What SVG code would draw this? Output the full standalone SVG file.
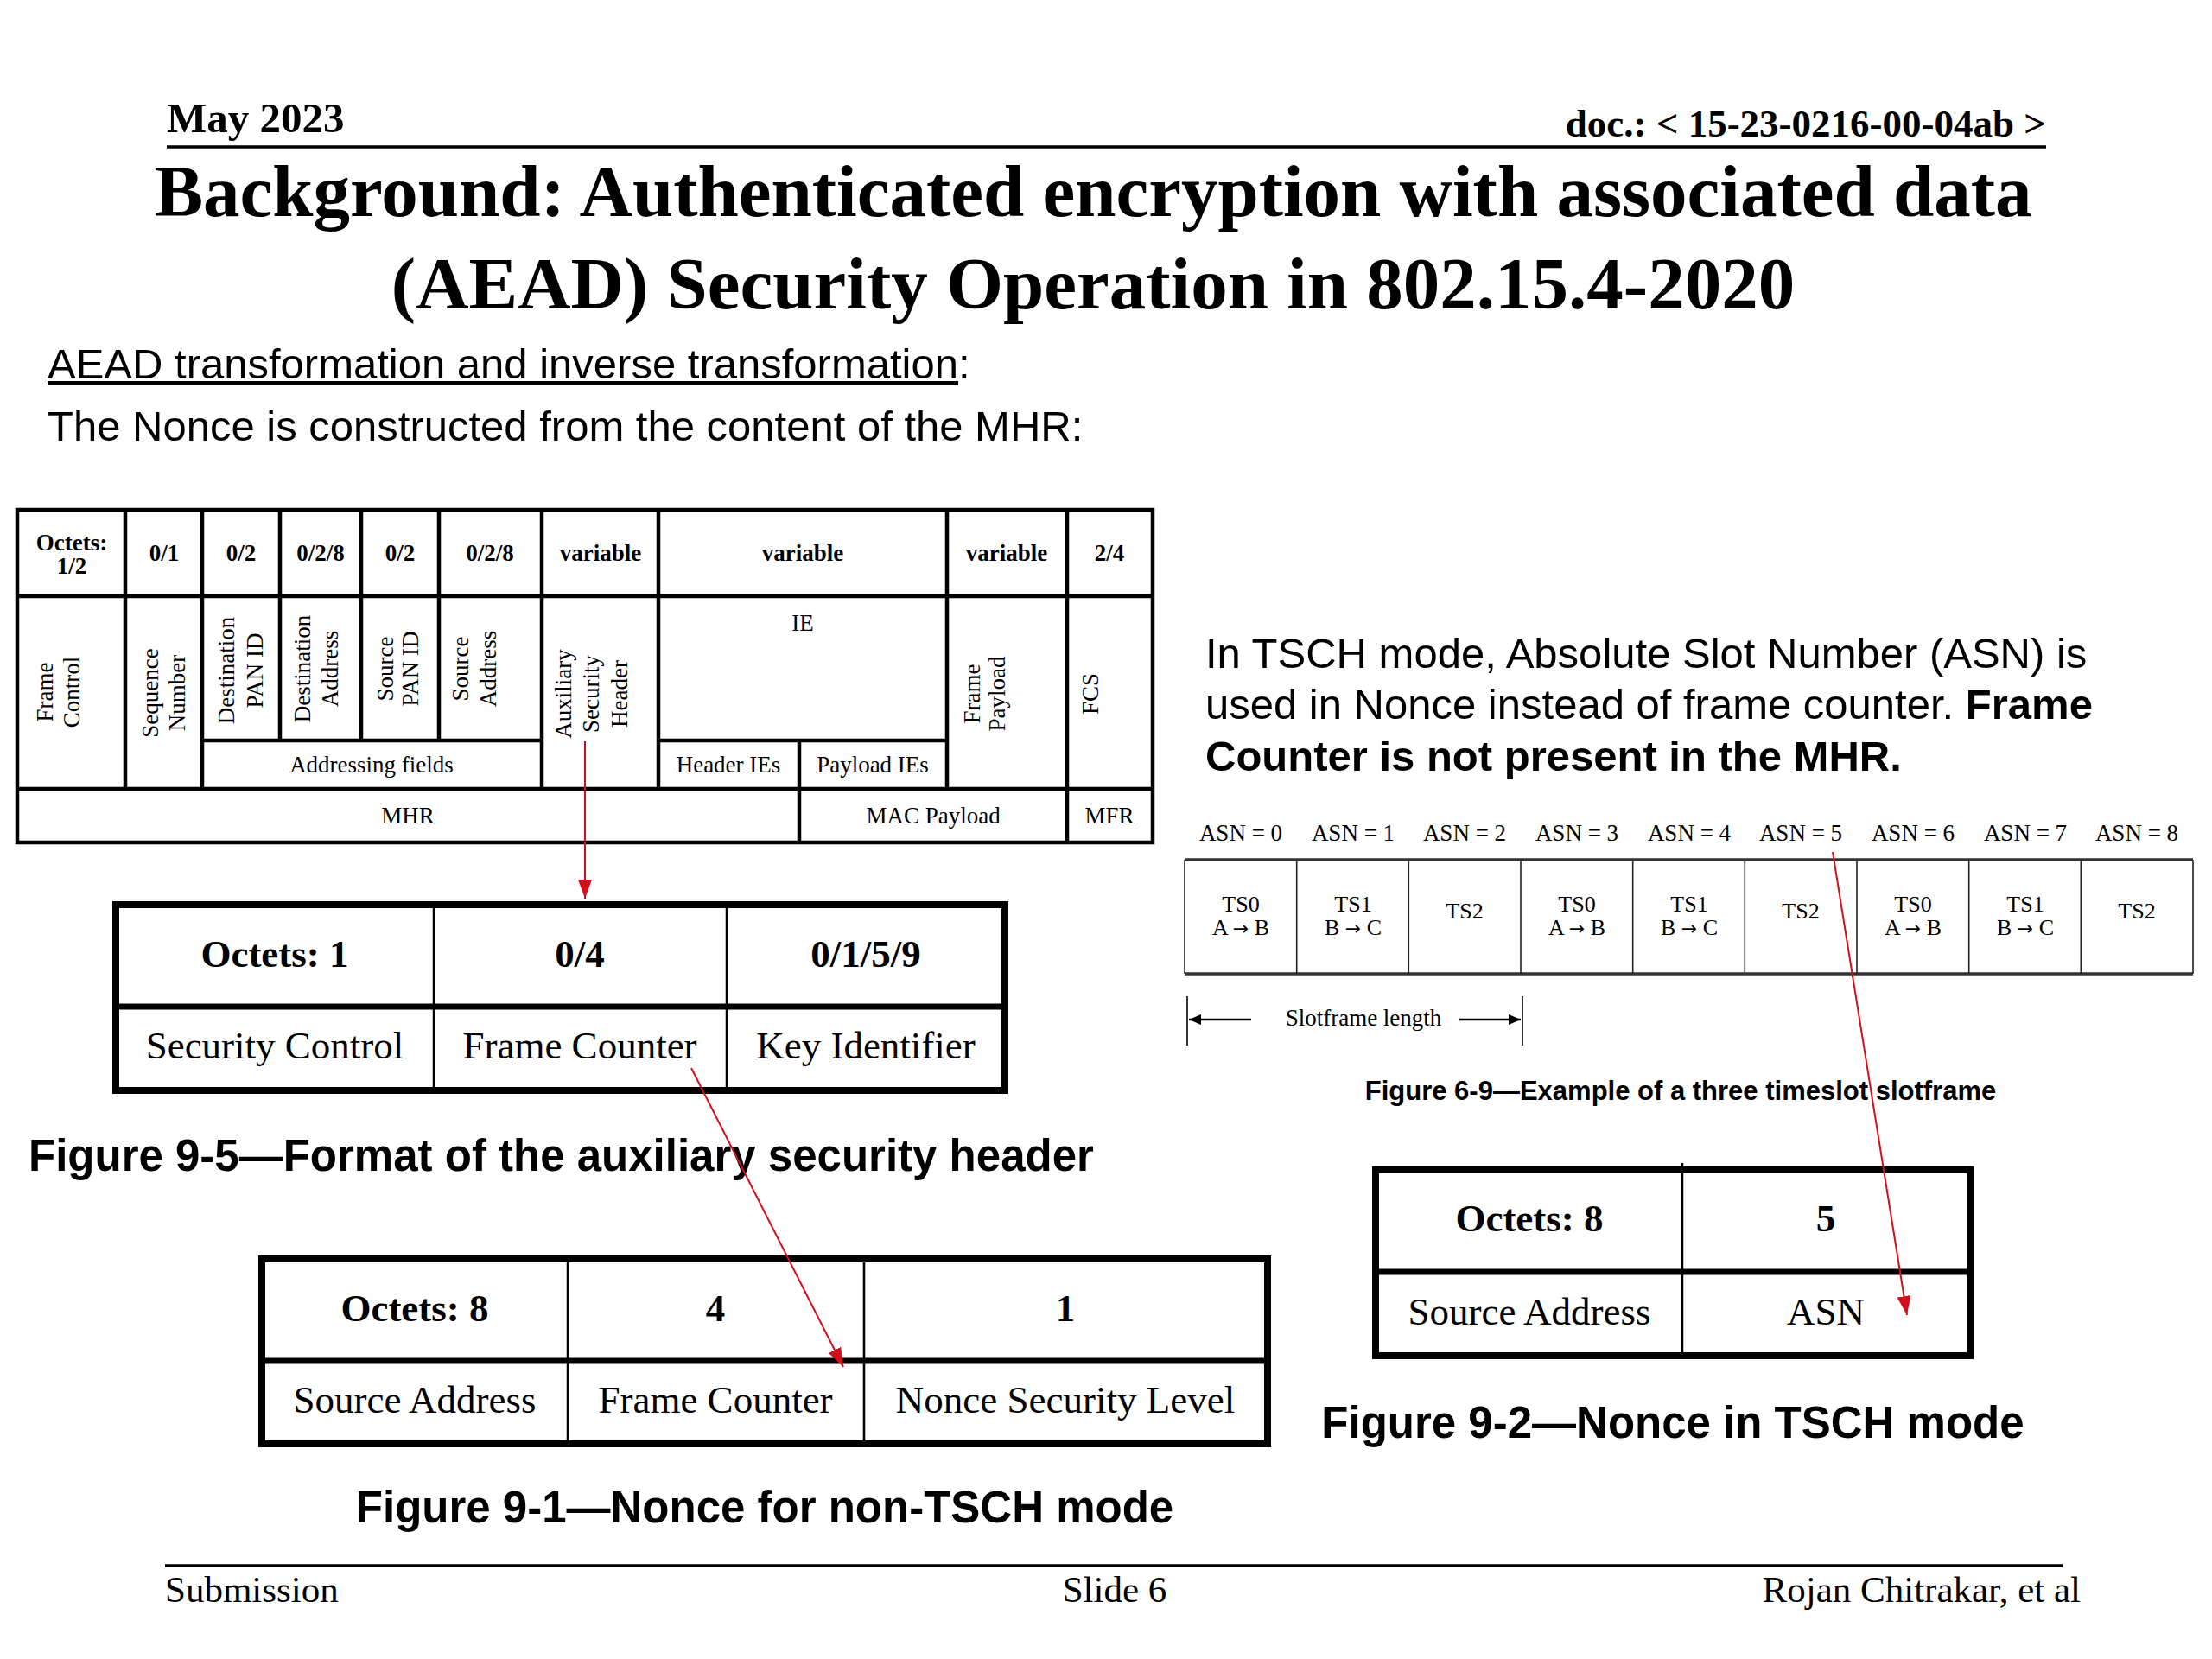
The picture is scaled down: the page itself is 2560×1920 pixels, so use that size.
<svg xmlns="http://www.w3.org/2000/svg" width="2560" height="1920" viewBox="0 0 2560 1920">
<style>
.serif{font-family:"Liberation Serif","Times New Roman",serif;fill:#000}
.sans{font-family:"Liberation Sans",Arial,sans-serif;fill:#000}
.arr{font-family:"DejaVu Sans",sans-serif;font-size:22px}
.b{font-weight:bold}
.f27{font-size:27px}
.f26{font-size:26px}
.f45{font-size:45px}
.f49{font-size:49px}
.cap{font-family:"Liberation Sans",Arial,sans-serif;font-weight:bold;font-size:51px;fill:#000}
.mid{text-anchor:middle}
.ln{stroke:#000;fill:none}
.t1{stroke:#000;stroke-width:4.5;fill:none}
.thick{stroke:#000;stroke-width:8;fill:none}
.thin{stroke:#000;stroke-width:2.5;fill:none}
.red{stroke:#d0101c;stroke-width:2;fill:none}
</style>
<defs>
<marker id="ah" markerUnits="userSpaceOnUse" markerWidth="22" markerHeight="16" refX="22" refY="8" orient="auto"><path d="M0,0 L22,8 L0,16 z" fill="#d0101c"/></marker>
<marker id="bh" markerUnits="userSpaceOnUse" markerWidth="14" markerHeight="12" refX="14" refY="6" orient="auto"><path d="M0,0 L14,6 L0,12 z" fill="#000"/></marker>
</defs>
<rect width="2560" height="1920" fill="#fff"/>

<g id="slide-header">
<text class="serif b" x="193" y="153" font-size="49">May 2023</text>
<text class="serif b" x="2368" y="158" font-size="45" text-anchor="end">doc.: &lt; 15-23-0216-00-04ab &gt;</text>
<line class="ln" x1="193" y1="170" x2="2368" y2="170" stroke-width="3.5"/>
</g>

<g id="title">
<text class="serif b mid" x="1265" y="250" font-size="85">Background: Authenticated encryption with associated data</text>
<text class="serif b mid" x="1265" y="357" font-size="85">(AEAD) Security Operation in 802.15.4-2020</text>
</g>

<g id="intro">
<text class="sans f49" x="55" y="438"><tspan text-decoration="underline">AEAD transformation and inverse transformation</tspan>:</text>
<text class="sans f49" x="55" y="510">The Nonce is constructed from the content of the MHR:</text>
</g>

<g id="mac-frame">
<rect class="t1" x="20" y="590" width="1314" height="385"/>
<path class="t1" d="M20,690H1334 M20,913H1334 M234,857H627 M762,857H1096
M145,590V913 M234,590V913 M324,590V857 M418,590V857 M508,590V857 M627,590V913 M762,590V913 M1096,590V913 M1235,590V975 M925,857V975"/>
<g class="serif b f27 mid">
<text x="83" y="637">Octets:</text>
<text x="83" y="664">1/2</text>
<text x="190" y="649">0/1</text>
<text x="279" y="649">0/2</text>
<text x="371" y="649">0/2/8</text>
<text x="463" y="649">0/2</text>
<text x="567" y="649">0/2/8</text>
<text x="695" y="649">variable</text>
<text x="929" y="649">variable</text>
<text x="1165" y="649">variable</text>
<text x="1284" y="649">2/4</text>
</g>
<g class="serif f27 mid">
<text transform="translate(52,801) rotate(-90)"><tspan x="0" y="9">Frame</tspan><tspan x="0" y="40">Control</tspan></text>
<text transform="translate(174,802) rotate(-90)"><tspan x="0" y="9">Sequence</tspan><tspan x="0" y="40">Number</tspan></text>
<text transform="translate(262,776) rotate(-90)"><tspan x="0" y="9">Destination</tspan><tspan x="0" y="42">PAN ID</tspan></text>
<text transform="translate(350,774) rotate(-90)"><tspan x="0" y="9">Destination</tspan><tspan x="0" y="41">Address</tspan></text>
<text transform="translate(446,774) rotate(-90)"><tspan x="0" y="9">Source</tspan><tspan x="0" y="38">PAN ID</tspan></text>
<text transform="translate(533,774) rotate(-90)"><tspan x="0" y="9">Source</tspan><tspan x="0" y="41">Address</tspan></text>
<text transform="translate(652,803) rotate(-90)"><tspan x="0" y="9">Auxiliary</tspan><tspan x="0" y="41">Security</tspan><tspan x="0" y="74">Header</tspan></text>
<text transform="translate(1125,803) rotate(-90)"><tspan x="0" y="9">Frame</tspan><tspan x="0" y="38">Payload</tspan></text>
<text transform="translate(1262,803) rotate(-90)"><tspan x="0" y="9">FCS</tspan></text>
<text x="430" y="894">Addressing fields</text>
<text x="929" y="730">IE</text>
<text x="843" y="894">Header IEs</text>
<text x="1010" y="894">Payload IEs</text>
<text x="472" y="953">MHR</text>
<text x="1080" y="953">MAC Payload</text>
<text x="1284" y="953">MFR</text>
</g>
</g>

<g id="aux-security-header">
<rect class="thick" x="134" y="1047" width="1029" height="215"/>
<line class="ln" x1="134" y1="1165" x2="1163" y2="1165" stroke-width="7"/>
<path class="thin" d="M502,1047V1262 M841,1047V1262"/>
<g class="serif f45 mid">
<text class="b" x="318" y="1119">Octets: 1</text>
<text class="b" x="671" y="1119">0/4</text>
<text class="b" x="1002" y="1119">0/1/5/9</text>
<text x="318" y="1225">Security Control</text>
<text x="671" y="1225">Frame Counter</text>
<text x="1002" y="1225">Key Identifier</text>
</g>
<text class="cap" x="33" y="1355">Figure 9-5—Format of the auxiliary security header</text>
</g>

<g id="nonce-non-tsch">
<rect class="thick" x="303" y="1457" width="1164" height="214"/>
<line class="ln" x1="303" y1="1575" x2="1467" y2="1575" stroke-width="7"/>
<path class="thin" d="M657,1457V1671 M1000,1457V1671"/>
<g class="serif f45 mid">
<text class="b" x="480" y="1529">Octets: 8</text>
<text class="b" x="828" y="1529">4</text>
<text class="b" x="1233" y="1529">1</text>
<text x="480" y="1635">Source Address</text>
<text x="828" y="1635">Frame Counter</text>
<text x="1233" y="1635">Nonce Security Level</text>
</g>
<text class="cap mid" x="885" y="1762">Figure 9-1—Nonce for non-TSCH mode</text>
</g>

<g id="tsch-note">
<text class="sans f49" x="1395" y="773">In TSCH mode, Absolute Slot Number (ASN) is</text>
<text class="sans f49" x="1395" y="832">used in Nonce instead of frame counter. <tspan font-weight="bold">Frame</tspan></text>
<text class="sans f49 b" x="1395" y="892">Counter is not present in the MHR.</text>
</g>

<g id="slotframe">
<g class="serif f27 mid">
<text x="1436" y="973">ASN = 0</text>
<text x="1566" y="973">ASN = 1</text>
<text x="1695" y="973">ASN = 2</text>
<text x="1825" y="973">ASN = 3</text>
<text x="1955" y="973">ASN = 4</text>
<text x="2084" y="973">ASN = 5</text>
<text x="2214" y="973">ASN = 6</text>
<text x="2344" y="973">ASN = 7</text>
<text x="2473" y="973">ASN = 8</text>
</g>
<path d="M1371,995H2538 M1371,1127H2538" stroke="#333" stroke-width="3.5" fill="none"/>
<path d="M1371,995V1127 M1500.7,995V1127 M1630.3,995V1127 M1760,995V1127 M1889.7,995V1127 M2019.3,995V1127 M2149,995V1127 M2278.7,995V1127 M2408.3,995V1127 M2538,995V1127" stroke="#222" stroke-width="1.6" fill="none"/>
<g class="serif f26 mid">
<text x="1436" y="1055">TS0</text><text x="1436" y="1082">A <tspan class="arr">→</tspan> B</text>
<text x="1566" y="1055">TS1</text><text x="1566" y="1082">B <tspan class="arr">→</tspan> C</text>
<text x="1695" y="1063">TS2</text>
<text x="1825" y="1055">TS0</text><text x="1825" y="1082">A <tspan class="arr">→</tspan> B</text>
<text x="1955" y="1055">TS1</text><text x="1955" y="1082">B <tspan class="arr">→</tspan> C</text>
<text x="2084" y="1063">TS2</text>
<text x="2214" y="1055">TS0</text><text x="2214" y="1082">A <tspan class="arr">→</tspan> B</text>
<text x="2344" y="1055">TS1</text><text x="2344" y="1082">B <tspan class="arr">→</tspan> C</text>
<text x="2473" y="1063">TS2</text>
</g>
<path d="M1374,1153V1210 M1762,1153V1210" stroke="#000" stroke-width="1.6" fill="none"/>
<line x1="1448" y1="1180" x2="1376" y2="1180" stroke="#000" stroke-width="2.5" marker-end="url(#bh)"/>
<line x1="1689" y1="1180" x2="1760" y2="1180" stroke="#000" stroke-width="2.5" marker-end="url(#bh)"/>
<text class="serif f27 mid" x="1578" y="1187">Slotframe length</text>
<text class="sans b mid" x="1945" y="1273" font-size="31">Figure 6-9—Example of a three timeslot slotframe</text>
</g>

<g id="nonce-tsch">
<rect class="thick" x="1592" y="1354" width="688" height="215"/>
<line class="ln" x1="1592" y1="1472" x2="2280" y2="1472" stroke-width="7"/>
<path class="thin" d="M1947,1346V1569"/>
<g class="serif f45 mid">
<text class="b" x="1770" y="1425">Octets: 8</text>
<text class="b" x="2113" y="1425">5</text>
<text x="1770" y="1533">Source Address</text>
<text x="2113" y="1533">ASN</text>
</g>
<text class="cap mid" x="1936" y="1664">Figure 9-2—Nonce in TSCH mode</text>
</g>

<g id="connectors">
<line class="red" x1="677" y1="858" x2="677" y2="1040" marker-end="url(#ah)"/>
<line class="red" x1="800" y1="1236" x2="976" y2="1582" marker-end="url(#ah)"/>
<line class="red" x1="2121" y1="986" x2="2207" y2="1522" marker-end="url(#ah)"/>
</g>

<g id="footer">
<line class="ln" x1="191" y1="1812" x2="2387" y2="1812" stroke-width="3.5"/>
<text class="serif" x="191" y="1854" font-size="43">Submission</text>
<text class="serif mid" x="1290" y="1854" font-size="43">Slide 6</text>
<text class="serif" x="2408" y="1854" font-size="43" text-anchor="end">Rojan Chitrakar, et al</text>
</g>
</svg>
